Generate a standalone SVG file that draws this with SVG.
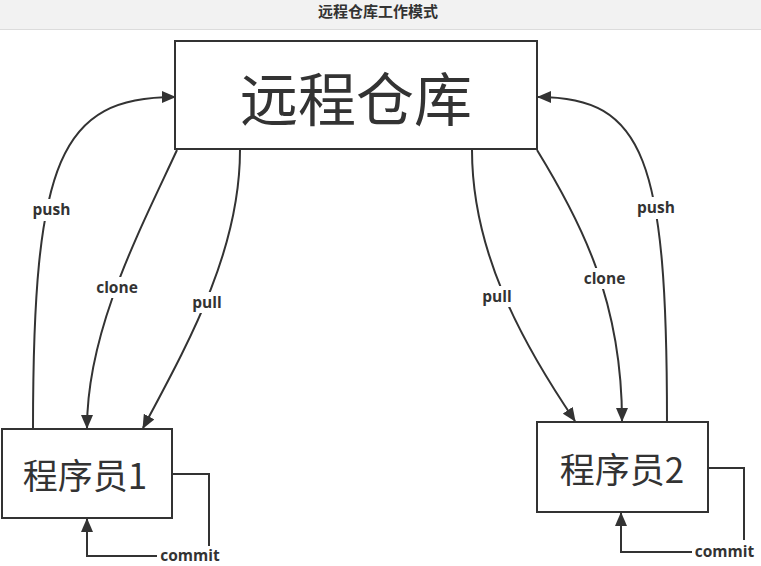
<svg xmlns="http://www.w3.org/2000/svg" width="761" height="566" viewBox="0 0 761 566">
<defs>
<style>
.node{fill:#fff;stroke:#333;stroke-width:2}
.big{font-family:"Noto Sans CJK SC","Noto Sans",sans-serif;fill:#333;text-anchor:middle;font-weight:normal}
.edge{fill:none;stroke:#333;stroke-width:2}
.lbg{fill:#fff}
.lbl{font-family:"Open Sans","Noto Sans",sans-serif;font-weight:bold;font-size:15.5px;fill:#333;text-anchor:middle}
</style>
<marker id="arr" markerUnits="userSpaceOnUse" markerWidth="14" markerHeight="12" viewBox="0 0 14 12" refX="13" refY="6" orient="auto">
<path d="M0,0 L14,6 L0,12 Z" fill="#333"/>
</marker>
</defs>
<rect x="0" y="0" width="761" height="566" fill="#fff"/>
<g id="header">
<rect x="0" y="0" width="761" height="29" fill="#f2f2f2"/>
<line x1="0" y1="29.5" x2="761" y2="29.5" stroke="#dcdcdc" stroke-width="1"/>
<text x="378" y="17" font-family="Noto Sans CJK SC,sans-serif" font-size="15" font-weight="bold" fill="#333" text-anchor="middle">远程仓库工作模式</text>
</g>
<g id="connectors">
<path class="edge" marker-end="url(#arr)" d="M33,429 C33,160 60,97 175,97"/>
<path class="edge" marker-end="url(#arr)" d="M667,422 C667,160 645,97 538,97"/>
<path class="edge" marker-end="url(#arr)" d="M177,150 C140,230 87,330 87,428"/>
<path class="edge" marker-end="url(#arr)" d="M240,150 C240,250 190,340 143,428"/>
<path class="edge" marker-end="url(#arr)" d="M472,150 C472,250 520,340 575,421"/>
<path class="edge" marker-end="url(#arr)" d="M537,150 C580,220 622,300 622,421"/>
<path class="edge" marker-end="url(#arr)" d="M173,474 H209 V556 H87 V519"/>
<path class="edge" marker-end="url(#arr)" d="M709,468 H744 V552 H621 V513"/>
<g id="labels">
<rect class="lbg" x="30" y="199" width="43" height="22"/>
<text class="lbl" x="51.5" y="215">push</text>
<rect class="lbg" x="94" y="277" width="46" height="21"/>
<text class="lbl" x="117" y="293">clone</text>
<rect class="lbg" x="190" y="292" width="34" height="21"/>
<text class="lbl" x="207" y="308">pull</text>
<rect class="lbg" x="480" y="286" width="34" height="21"/>
<text class="lbl" x="497" y="302">pull</text>
<rect class="lbg" x="581" y="268" width="47" height="21"/>
<text class="lbl" x="604.5" y="284">clone</text>
<rect class="lbg" x="634" y="197" width="44" height="22"/>
<text class="lbl" x="656" y="213">push</text>
<rect class="lbg" x="157" y="546" width="66" height="20"/>
<text class="lbl" x="190" y="561">commit</text>
<rect class="lbg" x="692" y="540" width="66" height="22"/>
<text class="lbl" x="724.5" y="557">commit</text>
</g>
</g>
<g id="remote">
<rect class="node" x="175" y="41" width="362" height="108"/>
<text class="big" x="356" y="121" font-size="58">远程仓库</text>
</g>
<g id="dev1">
<rect class="node" x="2" y="429" width="170" height="89"/>
<text class="big" x="85" y="489" font-size="35">程序员1</text>
</g>
<g id="dev2">
<rect class="node" x="537" y="422" width="171" height="90"/>
<text class="big" x="622" y="483" font-size="35">程序员2</text>
</g>
</svg>
